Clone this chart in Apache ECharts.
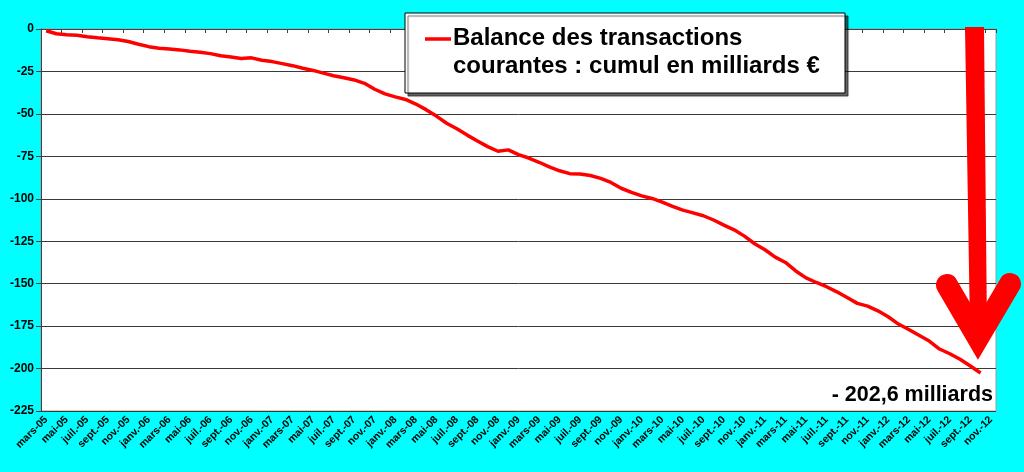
<!DOCTYPE html>
<html>
<head>
<meta charset="utf-8">
<style>
  html, body { margin: 0; padding: 0; background: #00FFFF; }
  #chart { width: 1024px; height: 472px; }
</style>
<script src="https://cdn.jsdelivr.net/npm/echarts@6/dist/echarts.min.js"></script>
</head>
<body>
<div id="chart"></div>
<script>
// Month abbreviations used on the axis (French)
const monthNames = ['janv.', 'févr.', 'mars', 'avr.', 'mai', 'juin', 'juil.', 'août', 'sept.', 'oct.', 'nov.', 'déc.'];
// Category axis: monthly from mars-05 to nov.-12
const startMonth = 2, startYear = 5, monthCount = 93;
const categories = [];
for (let k = 0; k < monthCount; k++) {
  const m = (startMonth + k) % 12;
  const y = startYear + Math.floor((startMonth + k) / 12);
  categories.push(monthNames[m] + '-' + String(y).padStart(2, '0'));
}

// Cumulative current account balance (billions €)
const values = [
  -1, -2.8, -3.4, -3.7, -4.6, -5.2, -5.7, -6.3, -7.4, -9,
  -10.4, -11.3, -11.8, -12.3, -13.1, -13.7, -14.5, -15.8, -16.5, -17.4,
  -17.0, -18.4, -19.2, -20.4, -21.6, -23.1, -24.4, -26, -27.5, -28.7,
  -30, -32, -35.5, -38.2, -40, -41.5, -44.2, -47.5, -51.3, -55.5,
  -58.8, -62.5, -66, -69.3, -72, -71.2, -74, -76, -78.5, -81.2,
  -83.5, -85.2, -85.4, -86.3, -88, -90.4, -93.8, -96.2, -98.3, -99.8,
  -102, -104.5, -106.7, -108.3, -110, -112.5, -115.5, -118.3, -122, -126.5,
  -130, -134.4, -137.5, -142.5, -146.6, -149.3, -151.8, -154.8, -158.2, -161.6,
  -163.2, -166, -169.5, -173.8, -177, -180.4, -183.8, -188.5, -191.3, -194.5,
  -198.5, -202.6
];

const seriesName = 'Balance des transactions courantes : cumul en milliards €';
const legendLines = ['Balance des transactions', 'courantes : cumul en milliards €'];
const annotationText = '- 202,6 milliards';

const yMin = -225, yMax = 0, yStep = 25;

const FONT = '"Liberation Sans", Arial, sans-serif';

const chart = echarts.init(document.getElementById('chart'), null, { renderer: 'canvas' });

const option = {
  backgroundColor: '#00FFFF',
  animation: false,
  grid: {
    left: 41, top: 29, right: 28, bottom: 61,
    containLabel: false,
    outerBoundsMode: 'none',
    show: true,
    backgroundColor: '#ffffff',
    borderColor: '#9a9a9a',
    borderWidth: 1
  },
  xAxis: {
    type: 'category',
    data: categories,
    boundaryGap: true,
    axisLine: { show: true, lineStyle: { color: '#404040', width: 1 } },
    axisTick: { show: true, interval: 1, length: 4, lineStyle: { color: '#404040' } },
    axisLabel: {
      interval: 1,
      rotate: 45,
      margin: 7,
      fontSize: 10.5,
      fontWeight: 'bold',
      fontFamily: FONT,
      color: '#000000'
    },
    splitLine: { show: false }
  },
  yAxis: {
    type: 'value',
    min: yMin,
    max: yMax,
    interval: yStep,
    axisLine: { show: true, lineStyle: { color: '#404040', width: 1 } },
    axisTick: { show: true, length: 5, lineStyle: { color: '#404040' } },
    axisLabel: {
      margin: 7,
      fontSize: 12,
      fontWeight: 'bold',
      fontFamily: FONT,
      color: '#000000'
    },
    splitLine: { show: true, lineStyle: { color: '#3a3a3a', width: 1 } }
  },
  series: [{
    name: seriesName,
    type: 'line',
    data: values,
    symbol: 'none',
    smooth: false,
    lineStyle: { color: '#ff0000', width: 3.5 },
    itemStyle: { color: '#ff0000' },
    z: 3
  }],
  graphic: [
    // legend box
    {
      type: 'rect',
      shape: { x: 405, y: 13, width: 440, height: 80 },
      style: {
        fill: '#ffffff', stroke: '#000000', lineWidth: 1,
        shadowColor: 'rgba(0,0,0,0.6)', shadowBlur: 1, shadowOffsetX: 3, shadowOffsetY: 3
      },
      z: 10
    },
    {
      type: 'line',
      shape: { x1: 425, y1: 39, x2: 451, y2: 39 },
      style: { stroke: '#ff0000', lineWidth: 3.5 },
      z: 11
    },
    {
      type: 'text',
      x: 453, y: 38,
      style: { text: legendLines[0], font: 'bold 24px ' + FONT, fill: '#000', verticalAlign: 'middle', align: 'left' },
      z: 11
    },
    {
      type: 'text',
      x: 453, y: 66.5,
      style: { text: legendLines[1], font: 'bold 24px ' + FONT, fill: '#000', verticalAlign: 'middle', align: 'left' },
      z: 11
    },
    // final value annotation
    {
      type: 'text',
      x: 993, y: 395,
      style: { text: annotationText, font: 'bold 21.5px ' + FONT, fill: '#000', verticalAlign: 'middle', align: 'right' },
      z: 11
    },
    // big red arrow: shaft
    {
      type: 'polygon',
      shape: { points: [[965, 27], [984, 27], [987, 330], [970, 330]] },
      style: { fill: '#ff0000' },
      z: 12
    },
    // big red arrow: head
    {
      type: 'polyline',
      shape: { points: [[947, 285], [978, 338], [1010, 284]] },
      style: { stroke: '#ff0000', lineWidth: 22, lineCap: 'round', lineJoin: 'miter', miterLimit: 10, fill: null },
      z: 12
    }
  ]
};

chart.setOption(option);
</script>
</body>
</html>
